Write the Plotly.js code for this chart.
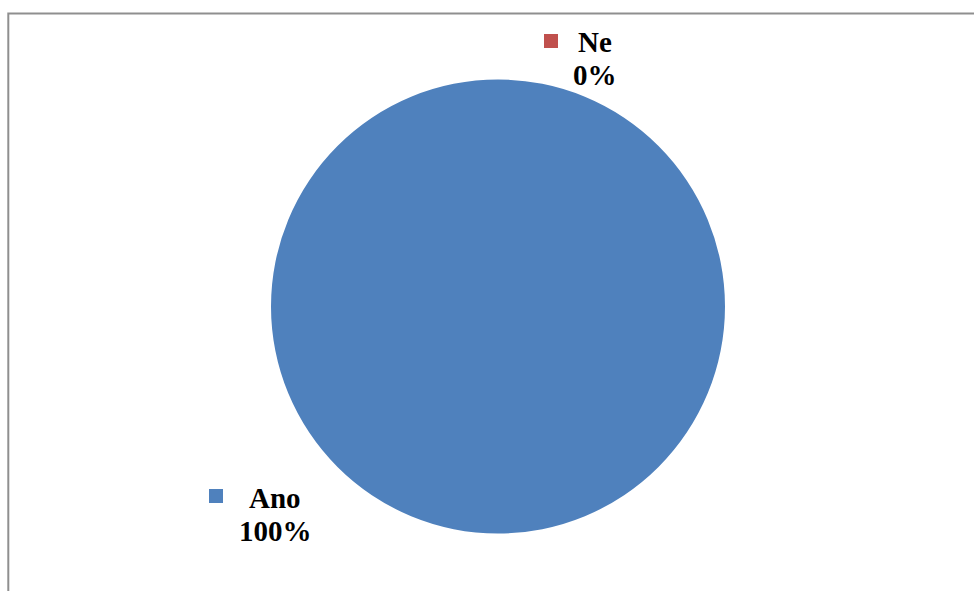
<!DOCTYPE html>
<html>
<head>
<meta charset="utf-8">
<script src="https://cdn.plot.ly/plotly-3.0.1.min.js"></script>
<style>
  html, body { margin: 0; padding: 0; background: #ffffff; }
  #chart { width: 974px; height: 591px; }
</style>
</head>
<body>
<div id="chart"></div>
<script>
// Answer categories and their shares (percent)
const categories = ['Ano', 'Ne'];
const shares = [100, 0];
const sliceColors = ['#4F81BD', '#C0504D'];

const W = 974, H = 591;
// pixel -> paper helpers
const px = x => x / W;
const py = y => 1 - y / H;

// Pie geometry in pixels
const cx = 498, cy = 306.5, r = 227;

// Label blocks (legend key + category + percent), pixel centres
const labelPos = {
  'Ano': { key: [216, 496], name: [275, 498], pct: [275, 531] },
  'Ne':  { key: [551, 41],  name: [595, 42],  pct: [595, 75] }
};

const total = shares.reduce((a, b) => a + b, 0);
const labelFont = { family: 'Liberation Serif, Times New Roman, serif', size: 29, color: '#000000', weight: 'bold' };

const annotations = [];
const shapes = [];

// Chart area frame
shapes.push({
  type: 'rect', xref: 'paper', yref: 'paper',
  x0: px(8.3), x1: px(W + 10), y0: py(H + 10), y1: py(13.5),
  line: { color: '#8f8f8f', width: 2 }, fillcolor: 'rgba(0,0,0,0)'
});

categories.forEach((cat, i) => {
  const p = labelPos[cat];
  const pct = Math.round(shares[i] / total * 100) + '%';
  const k = 7;
  shapes.push({
    type: 'rect', xref: 'paper', yref: 'paper',
    x0: px(p.key[0] - k), x1: px(p.key[0] + k),
    y0: py(p.key[1] + k), y1: py(p.key[1] - k),
    line: { width: 0 }, fillcolor: sliceColors[i]
  });
  annotations.push({
    xref: 'paper', yref: 'paper', x: px(p.name[0]), y: py(p.name[1]),
    xanchor: 'center', yanchor: 'middle', showarrow: false,
    text: cat, font: labelFont
  });
  annotations.push({
    xref: 'paper', yref: 'paper', x: px(p.pct[0]), y: py(p.pct[1]),
    xanchor: 'center', yanchor: 'middle', showarrow: false,
    text: pct, font: labelFont
  });
});

const trace = {
  type: 'pie',
  labels: categories,
  values: shares,
  sort: false,
  direction: 'clockwise',
  rotation: 0,
  textinfo: 'none',
  hoverinfo: 'label+percent',
  marker: { colors: sliceColors, line: { width: 0 } },
  domain: { x: [px(cx - r), px(cx + r)], y: [py(cy + r), py(cy - r)] },
  showlegend: false
};

const layout = {
  width: W, height: H,
  margin: { l: 0, r: 0, t: 0, b: 0 },
  paper_bgcolor: '#ffffff',
  showlegend: false,
  shapes: shapes,
  annotations: annotations
};

Plotly.newPlot('chart', [trace], layout, { staticPlot: true, displayModeBar: false });
</script>
</body>
</html>
